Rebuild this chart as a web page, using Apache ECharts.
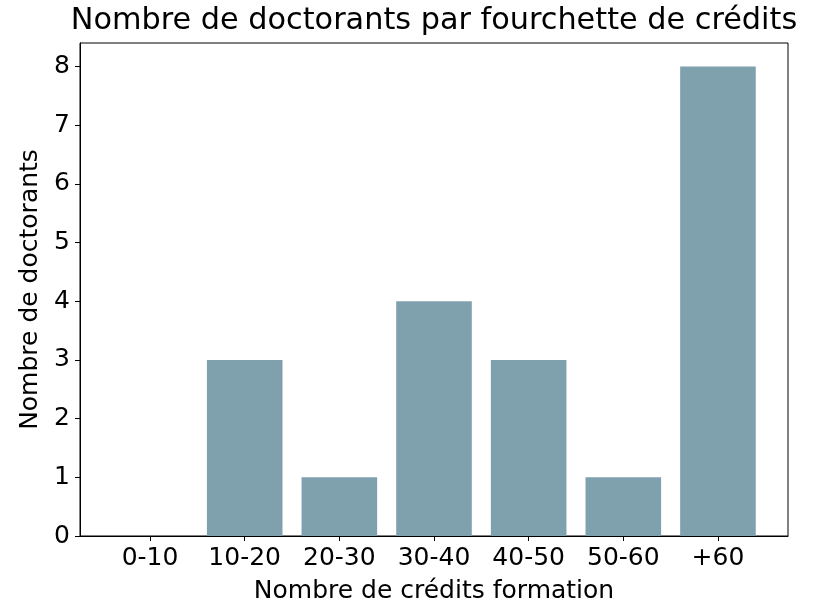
<!DOCTYPE html>
<html>
<head>
<meta charset="utf-8">
<script src="https://cdn.jsdelivr.net/npm/echarts@6/dist/echarts.min.js"></script>
<style>html,body{margin:0;padding:0;background:#fff;}#c{width:815px;height:600px;}</style>
</head>
<body>
<div id="c"></div>
<script>
const categories = ['0-10', '10-20', '20-30', '30-40', '40-50', '50-60', '+60'];
const counts = [0, 3, 1, 4, 3, 1, 8];
const yTicks = [0, 1, 2, 3, 4, 5, 6, 7, 8];
const titleText = 'Nombre de doctorants par fourchette de crédits';
const xName = 'Nombre de crédits formation';
const yName = 'Nombre de doctorants';

const FONT = 'DejaVu Sans';
const chart = echarts.init(document.getElementById('c'), null, {renderer: 'canvas'});
const xIdx = categories.map((c, i) => i);
chart.setOption({
  animation: false,
  backgroundColor: '#fff',
  textStyle: {fontFamily: FONT},
  grid: {left: 80, right: 27, top: 43, bottom: 64, show: true, borderColor: '#000', borderWidth: 1,
    backgroundColor: 'transparent', containLabel: false, outerBoundsMode: 'none'},
  graphic: [{
    type: 'text', x: 434, y: 21,
    style: {text: titleText, font: '30.3px "DejaVu Sans"', fill: '#000', align: 'center', verticalAlign: 'middle'}
  }],
  xAxis: {
    type: 'value', min: -0.74, max: 6.74,
    name: xName, nameLocation: 'middle', nameGap: 43,
    nameTextStyle: {fontSize: 25, color: '#000', fontFamily: FONT},
    axisLine: {show: true, onZero: false, lineStyle: {color: '#000', width: 1}},
    axisTick: {show: true, length: 5, lineStyle: {color: '#000'}, customValues: xIdx},
    axisLabel: {fontSize: 25, color: '#000', margin: 10, fontFamily: FONT, customValues: xIdx,
      formatter: v => categories[Math.round(v)] ?? ''},
    splitLine: {show: false}
  },
  yAxis: {
    type: 'value', min: 0, max: 8.4,
    name: yName, nameLocation: 'middle', nameGap: 34,
    nameTextStyle: {fontSize: 25, color: '#000', fontFamily: FONT},
    axisLine: {show: true, onZero: false, lineStyle: {color: '#000', width: 1}},
    axisTick: {show: true, length: 5, lineStyle: {color: '#000'}, customValues: yTicks},
    axisLabel: {fontSize: 25, color: '#000', margin: 10, fontFamily: FONT, customValues: yTicks},
    splitLine: {show: false}
  },
  series: [{
    type: 'bar',
    data: counts.map((v, i) => [i, v]),
    barWidth: 75.6,
    itemStyle: {color: '#7fa0ad'}
  }]
});
</script>
</body>
</html>
